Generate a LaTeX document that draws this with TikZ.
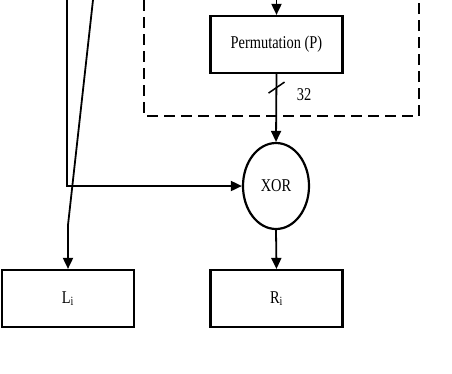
\documentclass[tikz,border=0pt]{standalone}
\usepackage{fontspec}
\setmainfont{Liberation Serif}[FakeStretch=0.8]
\usetikzlibrary{arrows.meta,positioning,shapes.geometric}

\begin{document}
\begin{tikzpicture}[x=1pt,y=-1pt,
  block/.style={draw,line width=2.2pt,minimum width=132pt,minimum height=57pt,inner sep=0pt},
  xorgate/.style={draw,ellipse,line width=2.2pt,minimum width=66pt,minimum height=86pt,inner sep=0pt},
  link/.style={line width=1.8pt,-{Triangle[length=11pt,width=10pt]}},
  font=\fontsize{18}{20}\selectfont]
\useasboundingbox (0,0) rectangle (452,373);
% round function, lower half
\node[block] (perm) at (276.5,44.5) {Permutation (P)};
\node[xorgate] (xor) at (276,186) {XOR};
\node[block] (li) at (68,298.5) {L\textsubscript{i}};
\node[block] (ri) at (276.5,298.5) {R\textsubscript{i}};
\coordinate (pin) at (276.5,0);
\coordinate (lin) at (67,0);
\coordinate (rin) at (93,0);
\coordinate (bend) at (68,225);
% dashed frame of f
\draw[line width=2.5pt,dash pattern=on 11pt off 6pt] (144,0) |- (419,116) -- (419,0);
% connectors
\draw[link] (pin) -- (perm.north);
\draw[link] (perm.south) -- (xor.north);
\draw[line width=1.5pt] ([xshift=-8pt,yshift=-19pt]perm.south) -- ([xshift=8pt,yshift=-8pt]perm.south);
\node (width) at ([xshift=27.5pt,yshift=-21pt]perm.south) {32};
\draw[link] (lin) |- (xor.west);
\draw[link] (xor.south) -- (ri.north);
\draw[link] (rin) -- (bend) -- (li.north);
\end{tikzpicture}
\end{document}
